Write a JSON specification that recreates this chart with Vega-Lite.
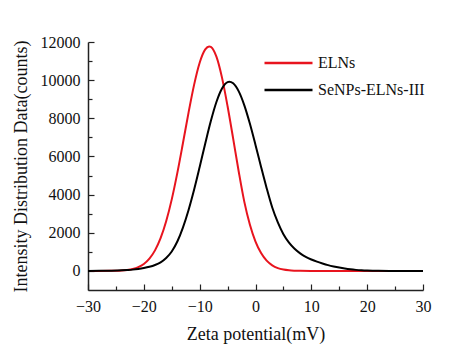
{
  "$schema": "https://vega.github.io/schema/vega-lite/v6.json",
  "width": 335,
  "height": 248,
  "autosize": "none",
  "padding": {"left": 88, "top": 42, "right": 41, "bottom": 58},
  "background": "white",
  "config": {"view": {"stroke": null}, "font": "Liberation Serif"},
  "data": {"values": [
    {"x": -30, "v": 0, "s": "ELNs"}, {"x": -28, "v": 0, "s": "ELNs"}, {"x": -26, "v": 4, "s": "ELNs"},
    {"x": -25, "v": 10, "s": "ELNs"}, {"x": -24, "v": 23, "s": "ELNs"}, {"x": -23, "v": 50, "s": "ELNs"},
    {"x": -22, "v": 101, "s": "ELNs"}, {"x": -21, "v": 197, "s": "ELNs"}, {"x": -20, "v": 365, "s": "ELNs"},
    {"x": -19, "v": 643, "s": "ELNs"}, {"x": -18, "v": 1077, "s": "ELNs"}, {"x": -17, "v": 1717, "s": "ELNs"},
    {"x": -16, "v": 2603, "s": "ELNs"}, {"x": -15, "v": 3750, "s": "ELNs"}, {"x": -14, "v": 5138, "s": "ELNs"},
    {"x": -13, "v": 6690, "s": "ELNs"}, {"x": -12, "v": 8286, "s": "ELNs"}, {"x": -11, "v": 9753, "s": "ELNs"},
    {"x": -10, "v": 10913, "s": "ELNs"}, {"x": -9, "v": 11612, "s": "ELNs"}, {"x": -8.3, "v": 11770, "s": "ELNs"},
    {"x": -8, "v": 11745, "s": "ELNs"}, {"x": -7, "v": 11232, "s": "ELNs"}, {"x": -6, "v": 10134, "s": "ELNs"},
    {"x": -5, "v": 8630, "s": "ELNs"}, {"x": -4, "v": 6933, "s": "ELNs"}, {"x": -3, "v": 5200, "s": "ELNs"},
    {"x": -2, "v": 3620, "s": "ELNs"}, {"x": -1, "v": 2420, "s": "ELNs"}, {"x": 0, "v": 1540, "s": "ELNs"},
    {"x": 1, "v": 940, "s": "ELNs"}, {"x": 2, "v": 540, "s": "ELNs"}, {"x": 3, "v": 295, "s": "ELNs"},
    {"x": 4, "v": 149, "s": "ELNs"}, {"x": 5, "v": 71, "s": "ELNs"}, {"x": 6, "v": 32, "s": "ELNs"},
    {"x": 7, "v": 14, "s": "ELNs"}, {"x": 8, "v": 5, "s": "ELNs"}, {"x": 10, "v": 0, "s": "ELNs"},
    {"x": 15, "v": 0, "s": "ELNs"}, {"x": 20, "v": 0, "s": "ELNs"}, {"x": 25, "v": 0, "s": "ELNs"},
    {"x": 30, "v": 0, "s": "ELNs"},
    {"x": -30, "v": 0, "s": "SeNPs-ELNs-III"}, {"x": -28, "v": 3, "s": "SeNPs-ELNs-III"}, {"x": -26, "v": 12, "s": "SeNPs-ELNs-III"},
    {"x": -24, "v": 30, "s": "SeNPs-ELNs-III"}, {"x": -23, "v": 47, "s": "SeNPs-ELNs-III"}, {"x": -22, "v": 68, "s": "SeNPs-ELNs-III"},
    {"x": -21, "v": 102, "s": "SeNPs-ELNs-III"}, {"x": -20, "v": 150, "s": "SeNPs-ELNs-III"}, {"x": -19, "v": 215, "s": "SeNPs-ELNs-III"},
    {"x": -18, "v": 310, "s": "SeNPs-ELNs-III"}, {"x": -17, "v": 450, "s": "SeNPs-ELNs-III"}, {"x": -16, "v": 680, "s": "SeNPs-ELNs-III"},
    {"x": -15, "v": 1020, "s": "SeNPs-ELNs-III"}, {"x": -14, "v": 1540, "s": "SeNPs-ELNs-III"}, {"x": -13, "v": 2270, "s": "SeNPs-ELNs-III"},
    {"x": -12, "v": 3185, "s": "SeNPs-ELNs-III"}, {"x": -11, "v": 4255, "s": "SeNPs-ELNs-III"}, {"x": -10, "v": 5447, "s": "SeNPs-ELNs-III"},
    {"x": -9, "v": 6683, "s": "SeNPs-ELNs-III"}, {"x": -8, "v": 7859, "s": "SeNPs-ELNs-III"}, {"x": -7, "v": 8857, "s": "SeNPs-ELNs-III"},
    {"x": -6, "v": 9565, "s": "SeNPs-ELNs-III"}, {"x": -5, "v": 9900, "s": "SeNPs-ELNs-III"}, {"x": -4.7, "v": 9920, "s": "SeNPs-ELNs-III"},
    {"x": -4, "v": 9833, "s": "SeNPs-ELNs-III"}, {"x": -3, "v": 9410, "s": "SeNPs-ELNs-III"}, {"x": -2, "v": 8678, "s": "SeNPs-ELNs-III"},
    {"x": -1, "v": 7712, "s": "SeNPs-ELNs-III"}, {"x": 0, "v": 6605, "s": "SeNPs-ELNs-III"}, {"x": 1, "v": 5451, "s": "SeNPs-ELNs-III"},
    {"x": 2, "v": 4336, "s": "SeNPs-ELNs-III"}, {"x": 3, "v": 3323, "s": "SeNPs-ELNs-III"}, {"x": 4, "v": 2540, "s": "SeNPs-ELNs-III"},
    {"x": 5, "v": 1920, "s": "SeNPs-ELNs-III"}, {"x": 6, "v": 1480, "s": "SeNPs-ELNs-III"}, {"x": 7, "v": 1160, "s": "SeNPs-ELNs-III"},
    {"x": 8, "v": 920, "s": "SeNPs-ELNs-III"}, {"x": 9, "v": 740, "s": "SeNPs-ELNs-III"}, {"x": 10, "v": 600, "s": "SeNPs-ELNs-III"},
    {"x": 11, "v": 485, "s": "SeNPs-ELNs-III"}, {"x": 12, "v": 390, "s": "SeNPs-ELNs-III"}, {"x": 13, "v": 305, "s": "SeNPs-ELNs-III"},
    {"x": 14, "v": 235, "s": "SeNPs-ELNs-III"}, {"x": 15, "v": 175, "s": "SeNPs-ELNs-III"}, {"x": 16, "v": 125, "s": "SeNPs-ELNs-III"},
    {"x": 17, "v": 85, "s": "SeNPs-ELNs-III"}, {"x": 18, "v": 55, "s": "SeNPs-ELNs-III"}, {"x": 19, "v": 32, "s": "SeNPs-ELNs-III"},
    {"x": 20, "v": 17, "s": "SeNPs-ELNs-III"}, {"x": 21, "v": 8, "s": "SeNPs-ELNs-III"}, {"x": 22, "v": 3, "s": "SeNPs-ELNs-III"},
    {"x": 24, "v": 0, "s": "SeNPs-ELNs-III"}, {"x": 27, "v": 0, "s": "SeNPs-ELNs-III"}, {"x": 30, "v": 0, "s": "SeNPs-ELNs-III"}
  ]},
  "mark": {"type": "line", "interpolate": "monotone", "strokeWidth": 2, "clip": true},
  "encoding": {
    "x": {
      "field": "x", "type": "quantitative",
      "scale": {"domain": [-30, 30], "nice": false, "zero": false},
      "axis": {
        "title": "Zeta potential(mV)",
        "values": [-30, -25, -20, -15, -10, -5, 0, 5, 10, 15, 20, 25, 30],
        "labelExpr": "datum.value % 10 === 0 ? datum.label : ''",
        "grid": false,
        "domainColor": "#222", "domainWidth": 1.5,
        "tickColor": "#222", "tickWidth": 1.2,
        "tickSize": {"condition": {"test": "datum.value % 10 === 0", "value": -6}, "value": -4},
        "labelPadding": 14,
        "labelFont": "Liberation Serif", "labelFontSize": 16, "labelColor": "#111",
        "titleFont": "Liberation Serif", "titleFontSize": 18, "titleFontWeight": "normal", "titleColor": "#111",
        "titlePadding": 11,
        "labelFlush": false
      }
    },
    "y": {
      "field": "v", "type": "quantitative",
      "scale": {"domain": [-1000, 12000], "nice": false, "zero": false},
      "axis": {
        "title": "Intensity Distribution Data(counts)",
        "values": [0, 1000, 2000, 3000, 4000, 5000, 6000, 7000, 8000, 9000, 10000, 11000, 12000],
        "labelExpr": "datum.value % 2000 === 0 ? datum.label : ''",
        "format": "d",
        "grid": false,
        "domainColor": "#222", "domainWidth": 1.5,
        "tickColor": "#222", "tickWidth": 1.2,
        "tickSize": {"condition": {"test": "datum.value % 2000 === 0", "value": -6}, "value": -4},
        "labelPadding": 14,
        "labelFont": "Liberation Serif", "labelFontSize": 16, "labelColor": "#111",
        "titleFont": "Liberation Serif", "titleFontSize": 18, "titleFontWeight": "normal", "titleColor": "#111",
        "titlePadding": 10
      }
    },
    "color": {
      "field": "s", "type": "nominal",
      "scale": {"domain": ["ELNs", "SeNPs-ELNs-III"], "range": ["#e8141e", "#000000"]},
      "legend": {
        "title": null,
        "orient": "none",
        "legendX": 175,
        "legendY": 12,
        "symbolType": "stroke",
        "symbolSize": 2304,
        "symbolStrokeWidth": 2.5,
        "clipHeight": 18,
        "labelFont": "Liberation Serif",
        "labelFontSize": 16,
        "labelColor": "#111",
        "labelOffset": 4,
        "rowPadding": 9
      }
    }
  }
}
